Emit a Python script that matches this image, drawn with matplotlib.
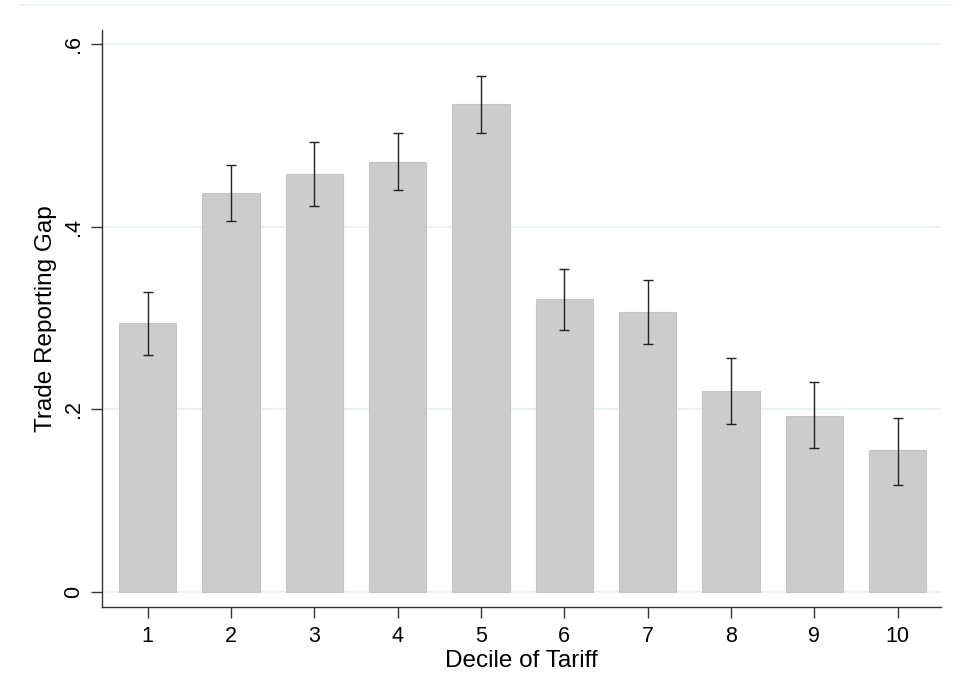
import numpy as np
import matplotlib
matplotlib.use('Agg')
import matplotlib.pyplot as plt

plt.rcParams['font.family'] = ['Liberation Sans', 'DejaVu Sans']

# Datos
deciles = [1, 2, 3, 4, 5, 6, 7, 8, 9, 10]
gap = [0.295, 0.437, 0.458, 0.471, 0.534, 0.321, 0.307, 0.220, 0.193, 0.155]
ci_high = [0.328, 0.468, 0.493, 0.503, 0.565, 0.354, 0.342, 0.256, 0.230, 0.191]
ci_low = [0.260, 0.406, 0.423, 0.440, 0.502, 0.287, 0.272, 0.184, 0.158, 0.117]
yticks = [0, 0.2, 0.4, 0.6]
ytick_labels = ['0', '.2', '.4', '.6']

fig = plt.figure(figsize=(9.54, 7), dpi=100)
ax = fig.add_axes([102/954, 1 - 607/700, (941-102)/954, (607-30)/700])

# Linea tenue arriba (marco de Stata)
fig.add_artist(plt.Line2D([20/954, 1], [1 - 5/700, 1 - 5/700], color='#eaf2f3', lw=1.2))

for y in yticks:
    ax.axhline(y, color='#eaf2f3', lw=1.5, zorder=0)

ax.bar(deciles, gap, width=0.69, color='#cccccc', edgecolor='#c4c4c4', lw=0.8, zorder=2)
err = [np.array(gap) - np.array(ci_low), np.array(ci_high) - np.array(gap)]
ax.errorbar(deciles, gap, yerr=err, fmt='none', ecolor='#222222', elinewidth=1.0,
            capsize=3.8, capthick=1.0, zorder=3)

ax.set_xlim(0.452, 10.52)
ax.set_ylim(-0.0164, 0.6153)
ax.set_xticks(deciles)
ax.set_yticks(yticks)
ax.set_yticklabels(ytick_labels, rotation=90, va='center')
ax.tick_params(axis='both', labelsize=15.5, length=8, width=1, color='#333333')
ax.tick_params(axis='x', pad=6)
ax.tick_params(axis='y', pad=5)

for s in ['top', 'right']:
    ax.spines[s].set_visible(False)
for s in ['left', 'bottom']:
    ax.spines[s].set_color('#333333')
    ax.spines[s].set_linewidth(1.0)

ax.set_xlabel('Decile of Tariff', fontsize=17.5, labelpad=2)
ax.set_ylabel('Trade Reporting Gap', fontsize=17.5, labelpad=4)

fig.savefig('out.png', dpi=100, facecolor='white')
